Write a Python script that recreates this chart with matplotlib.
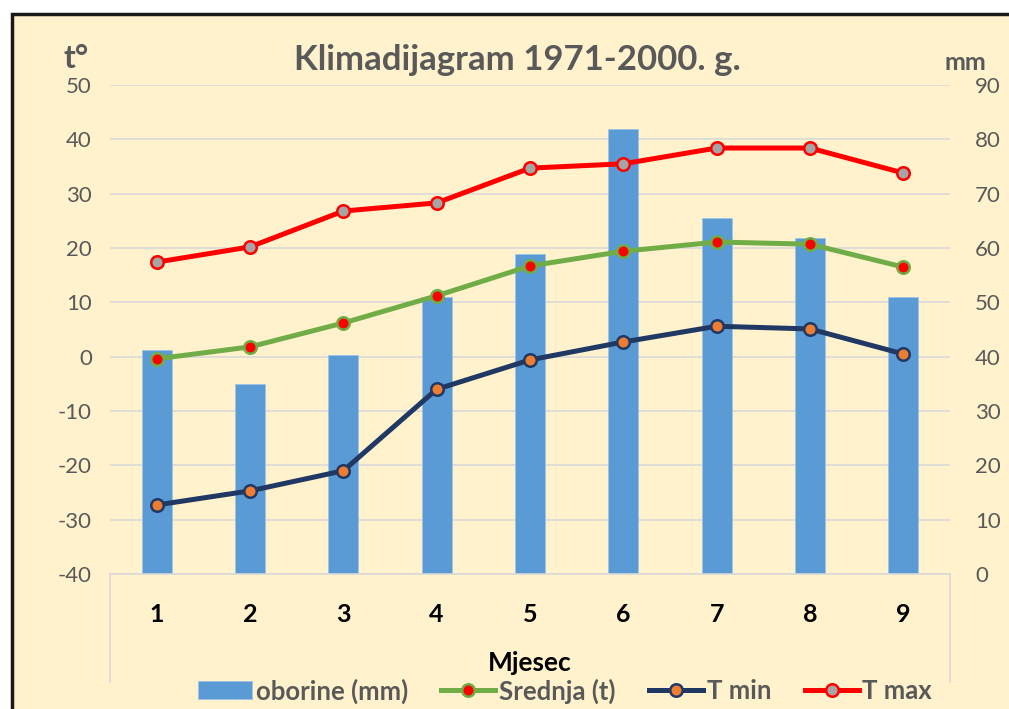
import matplotlib
matplotlib.use("Agg")
import matplotlib.pyplot as plt
from matplotlib.patches import Rectangle
from matplotlib.lines import Line2D

plt.rcParams['font.family'] = ['Lato', 'DejaVu Sans']
plt.rcParams['axes.unicode_minus'] = False

months = [1, 2, 3, 4, 5, 6, 7, 8, 9]
month_labels = ['1', '2', '3', '4', '5', '6', '7', '8', '9']
oborine = [41.2, 35.0, 40.3, 51.0, 58.9, 81.9, 65.5, 61.8, 51.0]
srednja = [-0.4, 1.8, 6.2, 11.2, 16.7, 19.4, 21.1, 20.7, 16.5]
t_min = [-27.3, -24.7, -21.0, -6.0, -0.6, 2.7, 5.6, 5.1, 0.5]
t_max = [17.4, 20.2, 26.8, 28.3, 34.7, 35.5, 38.4, 38.4, 33.8]
t_ticks = [-40, -30, -20, -10, 0, 10, 20, 30, 40, 50]
mm_ticks = [0, 10, 20, 30, 40, 50, 60, 70, 80, 90]

W, H = 1009, 709
CREAM = '#FFF2CC'
GRAY = '#595959'
GRID = '#D9D9D9'

fig = plt.figure(figsize=(W / 100, H / 100), dpi=100)
fig.patch.set_facecolor('white')
fig.patches.append(Rectangle((12 / W, -0.05), 1.1, (H - 14) / H + 0.05,
                             transform=fig.transFigure, facecolor=CREAM,
                             edgecolor='#1a1a1a', linewidth=2.5, zorder=-10))

l, r, b, t = 110 / W, 950 / W, 1 - 574 / H, 1 - 85 / H
ax = fig.add_axes([l, b, r - l, t - b])  # precipitation (right axis)
ax.set_facecolor('none')
ax.bar(months, oborine, width=0.32, color='#5B9BD5', edgecolor='#9DC3E6',
       linewidth=0.6, zorder=2, label='oborine (mm)')
ax.set_ylim(0, 90)
ax.set_xlim(0.5, 9.5)
ax.set_xticks(months)
ax.set_xticklabels(month_labels, fontsize=18, fontweight='bold', color='black')
ax.tick_params(axis='x', length=0, pad=21)
ax.grid(axis='y', color=GRID, linewidth=1.2, zorder=0)
ax.set_axisbelow(True)
for s in ['top', 'left', 'right']:
    ax.spines[s].set_visible(False)
ax.spines['bottom'].set_color(GRID)
ax.spines['bottom'].set_linewidth(1.2)

ax2 = ax.twinx()
ax2.set_ylim(-40, 50)
for s in ax2.spines.values():
    s.set_visible(False)
ax2.patch.set_visible(False)

# precipitation ticks on the right, temperature ticks on the left
ax.yaxis.tick_right()
ax.set_yticks(mm_ticks)
ax.tick_params(axis='y', which='both', left=False, labelleft=False,
               right=False, labelright=True, length=0, pad=18, labelsize=16,
               labelcolor=GRAY)
for lab in ax.get_yticklabels():
    lab.set_horizontalalignment('left')
ax2.yaxis.tick_left()
ax2.set_yticks(t_ticks)
ax2.tick_params(axis='y', which='both', right=False, labelright=False,
                left=False, labelleft=True, length=0, pad=13, labelsize=16,
                labelcolor=GRAY)

lw, ms, mew = 3.6, 9, 1.8
ax2.plot(months, srednja, color='#70AD47', lw=lw, marker='o', ms=ms,
         markerfacecolor='#FF0000', markeredgecolor='#70AD47', mew=mew,
         label='Srednja (t)', zorder=3)
ax2.plot(months, t_min, color='#203864', lw=lw, marker='o', ms=ms,
         markerfacecolor='#ED7D31', markeredgecolor='#203864', mew=mew,
         label='T min', zorder=3)
ax2.plot(months, t_max, color='#FF0000', lw=lw, marker='o', ms=ms,
         markerfacecolor='#A5A5A5', markeredgecolor='#FF0000', mew=mew,
         label='T max', zorder=3)

# category-axis box lines
for xf in (l, r):
    fig.add_artist(Line2D([xf, xf], [b, 1 - 682 / H], transform=fig.transFigure,
                          color=GRID, lw=1.2))

fig.text(517 / W, 1 - 60 / H, 'Klimadijagram 1971-2000. g.', ha='center',
         va='center', fontsize=25, fontweight='bold', color=GRAY)
fig.text(76 / W, 1 - 58 / H, 't°', ha='center', va='center', fontsize=23,
         fontweight='bold', color=GRAY)
fig.text(965 / W, 1 - 62 / H, 'mm', ha='center', va='center', fontsize=18,
         fontweight='bold', color=GRAY)
fig.text(530 / W, 1 - 663 / H, 'Mjesec', ha='center', va='center',
         fontsize=19, fontweight='bold', color='black')

h1, l1 = ax.get_legend_handles_labels()
h2, l2 = ax2.get_legend_handles_labels()
leg = fig.legend(h1 + h2, l1 + l2, loc='center', bbox_to_anchor=(565 / W, 1 - 691 / H),
                 ncol=4, frameon=False, fontsize=18.5, handlelength=2.1,
                 handletextpad=0.15, columnspacing=1.3, borderaxespad=0)
for txt in leg.get_texts():
    txt.set_color(GRAY)
    txt.set_fontweight('bold')

fig.savefig('out.png', dpi=100)
